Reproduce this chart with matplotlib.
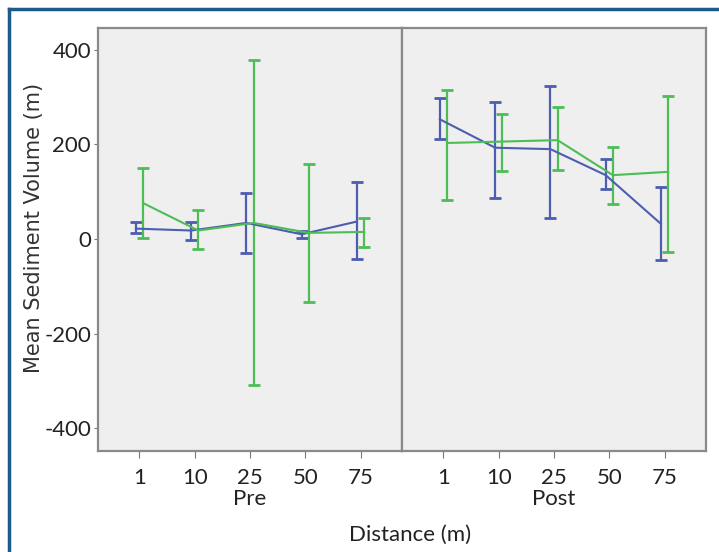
import matplotlib
matplotlib.use("Agg")
import matplotlib.pyplot as plt
from matplotlib.lines import Line2D
import numpy as np

# category labels and periods
distances = ["1", "10", "25", "50", "75"]
periods = ["Pre", "Post"]

# blue series: mean, upper, lower
blue_mean = {"Pre": [22, 18, 34, 10, 37], "Post": [253, 193, 190, 135, 32]}
blue_hi = {"Pre": [35, 35, 97, 17, 121], "Post": [298, 290, 324, 169, 109]}
blue_lo = {"Pre": [12, -2, -30, 2, -43], "Post": [211, 86, 45, 105, -44]}

# green series
green_mean = {"Pre": [76, 18, 34, 13, 15], "Post": [203, 206, 209, 135, 142]}
green_hi = {"Pre": [151, 61, 379, 158, 45], "Post": [315, 264, 280, 195, 303]}
green_lo = {"Pre": [2, -22, -309, -133, -17], "Post": [82, 143, 145, 73, -28]}

BLUE = "#4d5db0"
GREEN = "#4dbd55"
TICKFONT = ["Lato", "DejaVu Sans"]

fig = plt.figure(figsize=(7.19, 5.52), dpi=100)
# frame: only the top and left edges show
fx, fy = 9 / 719, 1 - 9 / 552
fig.add_artist(Line2D([fx, 1], [fy, fy], transform=fig.transFigure,
                      color="#1c5a8a", lw=2.5))
fig.add_artist(Line2D([fx, fx], [0, fy], transform=fig.transFigure,
                      color="#1c5a8a", lw=2.5))

left, right, top, bottom = 98 / 719, 706 / 719, 1 - 28 / 552, 1 - 451 / 552
w = (right - left) / 2
axes = [fig.add_axes([left, bottom, w, top - bottom]),
        fig.add_axes([left + w, bottom, w, top - bottom])]

x = np.arange(len(distances))
off = 0.065
for ax, p in zip(axes, periods):
    ax.set_facecolor("#efefef")
    for series, mean, hi, lo, col, dx in [
            ("blue", blue_mean, blue_hi, blue_lo, BLUE, -off),
            ("green", green_mean, green_hi, green_lo, GREEN, off)]:
        m = np.array(mean[p])
        err = [m - np.array(lo[p]), np.array(hi[p]) - m]
        ax.errorbar(x + dx, m, yerr=err, color=col, lw=1.5, capsize=4,
                    capthick=2, elinewidth=1.6)
    ax.set_xlim(-0.75, 4.75)
    ax.set_ylim(-448, 446)
    ax.set_xticks(x)
    ax.set_xticklabels(distances, family=TICKFONT, fontsize=16, color="#222222")
    ax.set_xlabel(p, family=TICKFONT, fontsize=16, color="#222222", labelpad=1)
    ax.tick_params(axis="x", length=5, color="#777777", pad=7)
    for s in ax.spines.values():
        s.set_color("#8a8a8a")
        s.set_linewidth(1.6)

axes[0].set_yticks([-400, -200, 0, 200, 400])
axes[0].set_yticklabels(["-400", "-200", "0", "200", "400"], family=TICKFONT,
                        fontsize=16, color="#222222")
axes[0].tick_params(axis="y", length=3, color="#777777", pad=2)
axes[0].set_ylabel("Mean Sediment Volume (m)", fontsize=15, color="#333333")
axes[0].yaxis.set_label_coords(-0.178, 0.527)
axes[1].set_yticks([])

fig.text(410 / 719, 1 - 535 / 552, "Distance (m)", family=TICKFONT, fontsize=16,
         color="#222222", ha="center", va="center")

fig.savefig("out.png", dpi=100)
